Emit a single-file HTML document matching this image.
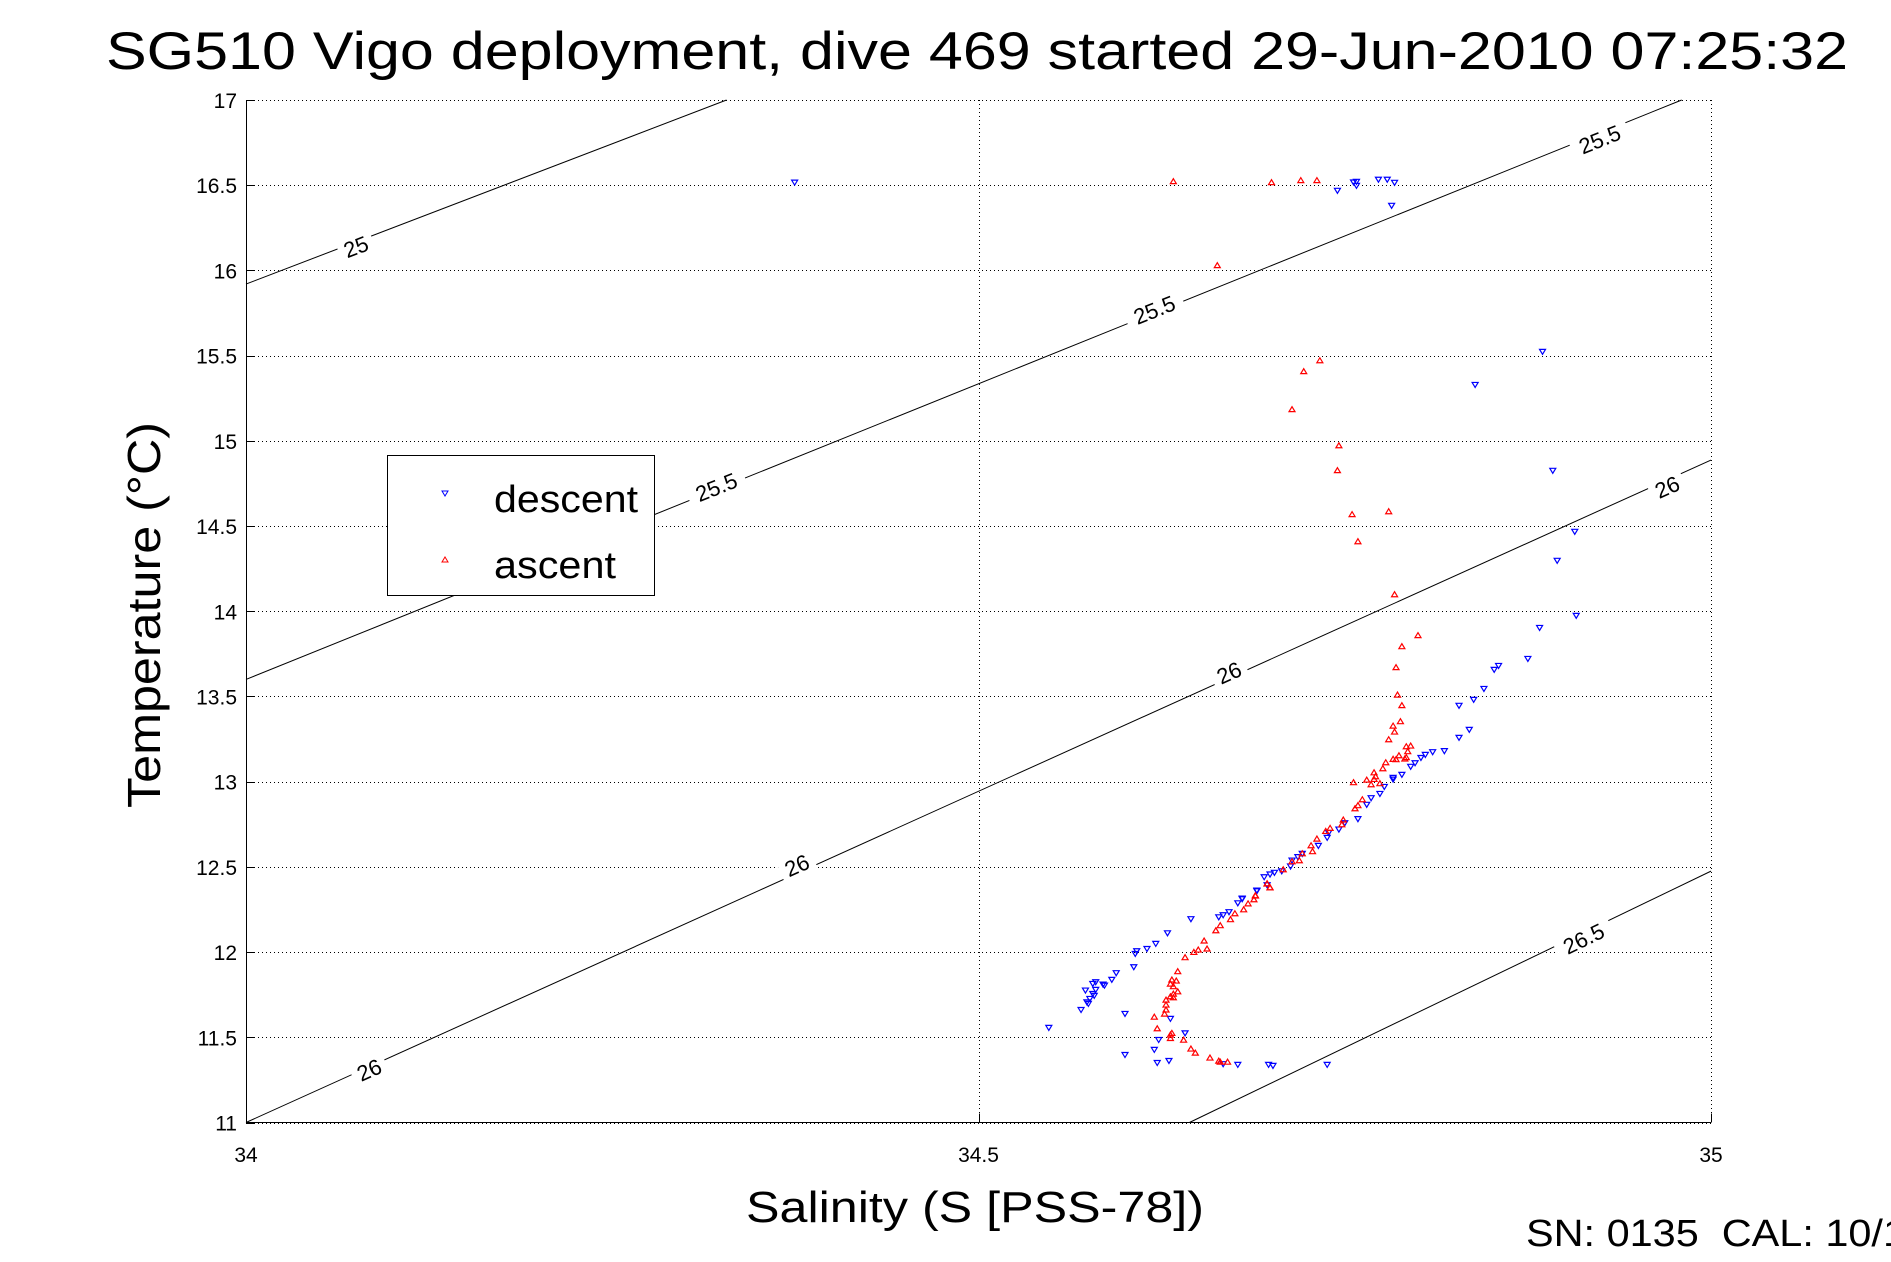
<!DOCTYPE html>
<html><head><meta charset="utf-8"><style>
html,body{margin:0;padding:0;background:#fff;}
svg{display:block;font-family:"Liberation Sans",sans-serif;}
</style></head><body>
<svg id="chart" width="1891" height="1262" viewBox="0 0 1891 1262" xmlns="http://www.w3.org/2000/svg">
<rect x="0" y="0" width="1891" height="1262" fill="#fff"/>
<text x="977" y="69" font-size="53" text-anchor="middle" textLength="1742" lengthAdjust="spacingAndGlyphs">SG510 Vigo deployment, dive 469 started 29-Jun-2010 07:25:32</text>
<g id="grid"></g>
<g id="contours"></g>
<g id="points"></g>
<g id="axes"></g>
<text x="975" y="1222" font-size="44" text-anchor="middle" textLength="458" lengthAdjust="spacingAndGlyphs">Salinity (S [PSS-78])</text>
<text transform="translate(160,615) rotate(-90)" font-size="46" text-anchor="middle" textLength="386" lengthAdjust="spacingAndGlyphs">Temperature (°C)</text>
<text x="1526" y="1246" font-size="38" xml:space="preserve" textLength="380" lengthAdjust="spacingAndGlyphs">SN: 0135  CAL: 10/1</text>
<g>
<rect x="387.5" y="455.5" width="267" height="140" fill="#fff" stroke="#000" stroke-width="1"/>
<polygon points="442,491 448,491 445,496" fill="none" stroke="#00f" stroke-width="1"/>
<text x="494" y="512" font-size="38" textLength="144" lengthAdjust="spacingAndGlyphs">descent</text>
<polygon points="442,562 448,562 445,557" fill="none" stroke="#f00" stroke-width="1"/>
<text x="494" y="578" font-size="38" textLength="122" lengthAdjust="spacingAndGlyphs">ascent</text>
</g>
</svg>
<script>
// axis ranges / ticks
const xTicks = [34, 34.5, 35];
const xTickLabels = ["34", "34.5", "35"];
const yTicks = [11, 11.5, 12, 12.5, 13, 13.5, 14, 14.5, 15, 15.5, 16, 16.5, 17];
const yTickLabels = ["11","11.5","12","12.5","13","13.5","14","14.5","15","15.5","16","16.5","17"];
// isopycnal contours (sigma-theta), endpoints in S,T
const contourLevels = ["25", "25.5", "26", "26.5"];
const contourS = [[34, 34.328], [34, 34.98], [34, 35], [34.644, 35]];
const contourT = [[15.92, 17], [13.60, 17], [11.0, 14.887], [11, 12.475]];
// contour label positions (S,T) and level index
const labelLevel = [0, 1, 1, 1, 2, 2, 2, 2, 3];
const labelS = [34.075, 34.620, 34.321, 34.924, 34.084, 34.376, 34.671, 34.970, 34.913];
const labelT = [16.14, 15.77, 14.73, 16.77, 11.31, 12.51, 13.64, 14.73, 12.08];
// descent data
const descS = [34.3745,34.745,34.756,34.758,34.758,34.773,34.779,34.784,34.782,34.885,34.839,34.892,34.907,34.895,34.908,34.883,34.875,34.855,34.852,34.845,34.838,34.828,34.835,34.828,34.818,34.810,34.805,34.802,34.798,34.795,34.789,34.783,34.783,34.777,34.774,34.768,34.765,34.759,34.750,34.746,34.739,34.738,34.732,34.721,34.718,34.714,34.713,34.707,34.702,34.699,34.695,34.690,34.680,34.697,34.690,34.680,34.677,34.671,34.667,34.664,34.645,34.629,34.621,34.615,34.608,34.607,34.606,34.594,34.591,34.586,34.585,34.580,34.578,34.580,34.573,34.579,34.578,34.576,34.575,34.574,34.570,34.548,34.600,34.600,34.620,34.623,34.622,34.630,34.631,34.641,34.667,34.677,34.698,34.701,34.738];
const descT = [16.518,16.470,16.519,16.523,16.499,16.535,16.535,16.517,16.382,15.525,15.331,14.827,14.469,14.299,13.976,13.905,13.723,13.682,13.659,13.547,13.483,13.448,13.307,13.260,13.182,13.176,13.160,13.142,13.111,13.090,13.043,13.025,13.015,12.972,12.931,12.906,12.867,12.783,12.759,12.722,12.702,12.673,12.626,12.579,12.560,12.540,12.505,12.477,12.468,12.458,12.442,12.364,12.317,12.395,12.360,12.313,12.289,12.237,12.219,12.207,12.196,12.113,12.051,12.021,12.008,11.992,11.914,11.879,11.840,11.806,11.812,11.826,11.816,11.781,11.777,11.746,11.757,11.728,11.699,11.708,11.663,11.558,11.640,11.399,11.429,11.487,11.352,11.364,11.611,11.526,11.345,11.341,11.341,11.335,11.341];
// ascent data
const ascS = [34.633,34.700,34.720,34.731,34.663,34.733,34.722,34.714,34.746,34.745,34.755,34.780,34.759,34.784,34.800,34.789,34.785,34.786,34.789,34.788,34.783,34.784,34.780,34.795,34.792,34.793,34.792,34.791,34.787,34.785,34.783,34.778,34.776,34.774,34.770,34.771,34.770,34.768,34.765,34.756,34.762,34.759,34.757,34.749,34.748,34.740,34.737,34.731,34.728,34.727,34.721,34.719,34.714,34.708,34.699,34.697,34.689,34.699,34.697,34.689,34.688,34.684,34.681,34.675,34.672,34.665,34.662,34.654,34.656,34.650,34.647,34.641,34.636,34.635,34.632,34.631,34.633,34.633,34.636,34.631,34.633,34.628,34.628,34.628,34.627,34.620,34.622,34.631,34.631,34.632,34.640,34.645,34.648,34.658,34.664,34.665,34.670];
const ascT = [16.521,16.515,16.527,16.527,16.028,15.470,15.406,15.183,14.971,14.825,14.567,14.584,14.408,14.097,13.857,13.792,13.669,13.508,13.446,13.352,13.326,13.291,13.246,13.209,13.205,13.176,13.141,13.133,13.152,13.129,13.131,13.111,13.076,12.988,13.052,13.029,13.013,12.982,13.009,12.994,12.894,12.859,12.841,12.775,12.747,12.726,12.708,12.663,12.589,12.624,12.577,12.536,12.530,12.483,12.377,12.399,12.329,12.377,12.401,12.331,12.307,12.283,12.248,12.225,12.190,12.155,12.125,12.065,12.018,12.012,11.998,11.967,11.885,11.830,11.836,11.812,11.797,11.732,11.767,11.738,11.753,11.718,11.689,11.660,11.636,11.618,11.550,11.493,11.513,11.523,11.483,11.431,11.407,11.378,11.360,11.354,11.354];

const NS = "http://www.w3.org/2000/svg";
const L = 246, R = 1711, T0 = 100, B = 1122.5;
const xMin = 34, xMax = 35, yMin = 11, yMax = 17;
function xs(s){ return L + (s - xMin) / (xMax - xMin) * (R - L); }
function ys(t){ return B - (t - yMin) / (yMax - yMin) * (B - T0); }
function mk(tag, attrs, parent){ const e = document.createElementNS(NS, tag); for (const k in attrs) e.setAttribute(k, attrs[k]); parent.appendChild(e); return e; }

const grid = document.getElementById('grid');
const axes = document.getElementById('axes');
xTicks.forEach((v, i) => {
  const x = Math.round(xs(v)) + 0.5;
  const gl = mk('line', {x1:x, y1:T0, x2:x, y2:B, stroke:'#000', 'stroke-width':1, 'stroke-dasharray':'1 3'}, grid);
  
  
  const tk = mk('line', {x1:x, y1:B, x2:x, y2:B-9, stroke:'#000', 'stroke-width':1}, axes);
  
  
  const lb = mk('text', {x:xs(v), y:1162, 'font-size':21, 'text-anchor':'middle'}, axes);
  lb.textContent = xTickLabels[i];
  
  
});
yTicks.forEach((v, i) => {
  const y = Math.round(ys(v)) + 0.5;
  const gl = mk('line', {x1:L, y1:y, x2:R, y2:y, stroke:'#000', 'stroke-width':1, 'stroke-dasharray':'1 3'}, grid);
  
  
  const tk = mk('line', {x1:L, y1:y, x2:L+9, y2:y, stroke:'#000', 'stroke-width':1}, axes);
  
  
  const lb = mk('text', {x:237, y:ys(v)+8, 'font-size':21, 'text-anchor':'end'}, axes);
  lb.textContent = yTickLabels[i];
  
  
});
const ax1 = mk('line', {x1:L+0.5, y1:T0, x2:L+0.5, y2:B, stroke:'#000', 'stroke-width':1}, axes);


const ax2 = mk('line', {x1:L, y1:B, x2:R, y2:B, stroke:'#000', 'stroke-width':1}, axes);



const cg = document.getElementById('contours');
contourS.forEach((sArr, i) => {
  const pts = sArr.map((s, j) => xs(s) + ',' + ys(contourT[i][j])).join(' ');
  const pl = mk('polyline', {points:pts, fill:'none', stroke:'#000', 'stroke-width':1}, cg);
  
  
});
labelS.forEach((s, i) => {
  const li = labelLevel[i];
  const sa = contourS[li], ta = contourT[li];
  const ang = Math.atan2(ys(ta[1]) - ys(ta[0]), xs(sa[1]) - xs(sa[0])) * 180 / Math.PI;
  const x = xs(s), y = ys(labelT[i]);
  const txt = contourLevels[li];
  const w = txt.length * 12 + 12;
  const g = mk('g', {transform:'translate(' + x + ',' + y + ') rotate(' + ang + ')'}, cg);
  mk('rect', {x:-w/2, y:-10, width:w, height:20, fill:'#fff'}, g);
  const t = mk('text', {x:0, y:8, 'font-size':22, 'text-anchor':'middle'}, g);
  t.textContent = txt;
  
  
});

const pg = document.getElementById('points');
descS.forEach((s, i) => {
  const x = xs(s), y = ys(descT[i]);
  const p = mk('polygon', {points:(x-3)+','+(y-2)+' '+(x+3)+','+(y-2)+' '+x+','+(y+3), fill:'none', stroke:'#00f', 'stroke-width':1.2}, pg);
  
  
});
ascS.forEach((s, i) => {
  const x = xs(s), y = ys(ascT[i]);
  const p = mk('polygon', {points:(x-3)+','+(y+2)+' '+(x+3)+','+(y+2)+' '+x+','+(y-3), fill:'none', stroke:'#f00', 'stroke-width':1.2}, pg);
  
  
});
</script>
</body></html>
